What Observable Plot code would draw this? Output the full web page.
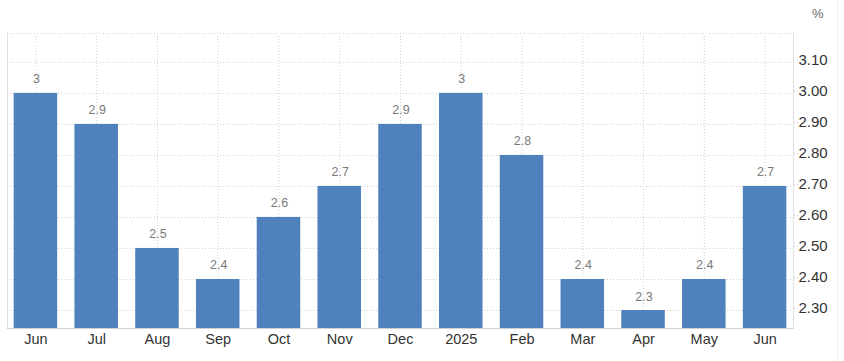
<!DOCTYPE html>
<html>
<head>
<meta charset="utf-8">
<script src="https://cdn.jsdelivr.net/npm/d3@7"></script>
<script src="https://cdn.jsdelivr.net/npm/@observablehq/plot@0.6"></script>
<style>
  html, body { margin: 0; padding: 0; background: #fff; }
  #wrap { position: relative; width: 844px; height: 361px; }
  #edge { position: absolute; left: 837px; top: 0; width: 1px; height: 361px; background: #eeeeee; }
  svg { overflow: visible; display: block; }
</style>
</head>
<body>
<div id="wrap"><div id="edge"></div></div>
<script>
const periods = ["2024-06","2024-07","2024-08","2024-09","2024-10","2024-11","2024-12","2025-01","2025-02","2025-03","2025-04","2025-05","2025-06"];
const tickLabels = ["Jun","Jul","Aug","Sep","Oct","Nov","Dec","2025","Feb","Mar","Apr","May","Jun"];
const values = [3, 2.9, 2.5, 2.4, 2.6, 2.7, 2.9, 3, 2.8, 2.4, 2.3, 2.4, 2.7];
const yTicks = [2.3, 2.4, 2.5, 2.6, 2.7, 2.8, 2.9, 3.0, 3.1];
const yDomain = [2.242, 3.193];

const data = periods.map((p, i) => ({period: p, label: tickLabels[i], value: values[i]}));
const labelOf = new Map(periods.map((p, i) => [p, tickLabels[i]]));

const chart = Plot.plot({
  width: 844,
  height: 361,
  marginTop: 33,
  marginBottom: 33,
  marginLeft: 7,
  marginRight: 51,
  style: {fontFamily: "Liberation Sans, Arial, sans-serif", background: "transparent"},
  x: {domain: periods, paddingInner: 0.284, paddingOuter: 0.11, round: false, label: null},
  y: {domain: yDomain, label: null},
  marks: [
    Plot.frame({stroke: "#e0e0e0"}),
    Plot.gridX(periods, {stroke: "#cfcfcf", strokeOpacity: 1, strokeDasharray: "1,2"}),
    Plot.gridY(yTicks, {stroke: "#cfcfcf", strokeOpacity: 1, strokeDasharray: "1,2"}),
    Plot.ruleY([yDomain[1]], {stroke: "#fff", strokeWidth: 1.5}),
    Plot.ruleY([yDomain[1]], {stroke: "#cfcfcf", strokeDasharray: "1,2"}),
    Plot.barY(data, {x: "period", y1: yDomain[0], y2: "value", fill: "#4f81bd"}),
    Plot.ruleY([yDomain[0]], {stroke: "#d0d0d0"}),
    Plot.text(data, {x: "period", y: "value", text: d => String(d.value), dy: -14, dx: 0.5, fill: "#7a7a7a", fontSize: 12.5, style: "letter-spacing:1px"}),
    Plot.axisX({tickSize: 0, tickPadding: 5, fontSize: 14.5, fill: "#333", tickFormat: d => labelOf.get(d), label: null}),
    Plot.axisY(yTicks, {anchor: "right", tickSize: 4, tickPadding: 1, stroke: "#cfcfcf", strokeDasharray: "1,2", fill: "#333", fontSize: 15, dy: -2, tickFormat: d3.format(".2f"), label: null}),
    Plot.text(["%"], {frameAnchor: "top-right", dx: 30, dy: -25, fill: "#666", fontSize: 13})
  ]
});
document.getElementById("wrap").appendChild(chart);
</script>
</body>
</html>
